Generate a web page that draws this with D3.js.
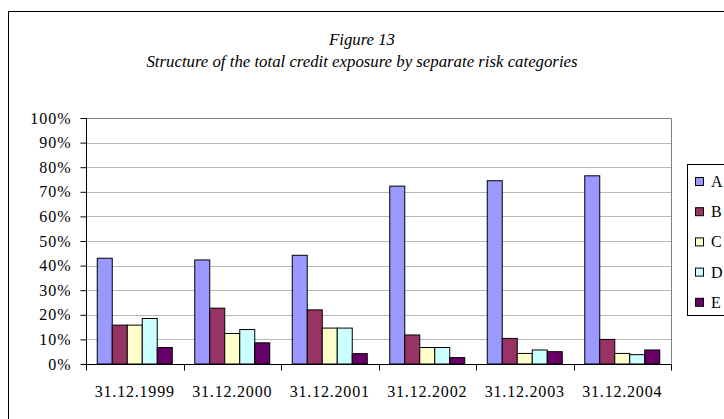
<!DOCTYPE html>
<html lang="en">

<head>
    <meta charset="utf-8" />
    <title>Figure 13</title>
    <script src="https://d3js.org/d3.v7.min.js"></script>
</head>
<style>
    body {
        margin: 0;
        background: #fff;
    }

    text {
        font-family: "Liberation Serif", "Times New Roman", serif;
        fill: #000;
    }

    .grid line {
        stroke: #b8b8b8;
        stroke-width: 1px;
    }

    .bar {
        stroke: #000;
        stroke-width: 1px;
    }
</style>

<body>
    <div id="chart"></div>
</body>

<script>
    var width = 724;
    var height = 419;

    // data (percent)
    var dates = ["31.12.1999", "31.12.2000", "31.12.2001", "31.12.2002", "31.12.2003", "31.12.2004"];
    var categories = ["A", "B", "C", "D", "E"];
    var colors = ["#9999FF", "#993366", "#FFFFCC", "#CCFFFF", "#660066"];
    var valA = [43.0, 42.3, 44.2, 72.3, 74.5, 76.5];
    var valB = [15.8, 22.7, 22.0, 11.8, 10.4, 10.0];
    var valC = [15.8, 12.4, 14.6, 6.7, 4.3, 4.3];
    var valD = [18.5, 14.0, 14.6, 6.7, 5.7, 3.8];
    var valE = [6.7, 8.6, 4.2, 2.6, 5.0, 5.7];
    var yTicks = [0, 10, 20, 30, 40, 50, 60, 70, 80, 90, 100];

    var series = [valA, valB, valC, valD, valE];

    var margin = { left: 86, top: 118, right: 671, bottom: 364 };

    var svg = d3.select("#chart").append("svg")
        .attr("width", width)
        .attr("height", height);

    // outer frame
    svg.append("rect")
        .attr("x", 8.5).attr("y", 11.5)
        .attr("width", 730).attr("height", 420)
        .attr("fill", "none").attr("stroke", "#000").attr("stroke-width", 1);

    svg.append("text")
        .attr("x", 362).attr("y", 45)
        .attr("text-anchor", "middle")
        .style("font-style", "italic").style("font-size", "16.8px")
        .text("Figure 13");
    svg.append("text")
        .attr("x", 362).attr("y", 67)
        .attr("text-anchor", "middle")
        .style("font-style", "italic").style("font-size", "16.8px")
        .text("Structure of the total credit exposure by separate risk categories");

    var x = d3.scaleBand()
        .domain(dates)
        .range([margin.left, margin.right]);

    // Excel style: gap width 150% of one bar
    var x1 = d3.scaleBand()
        .domain(categories)
        .range([0, x.bandwidth()])
        .paddingInner(0)
        .paddingOuter(0.75);

    var y = d3.scaleLinear()
        .domain([0, 100])
        .range([margin.bottom, margin.top]);

    // gridlines
    svg.append("g").attr("class", "grid")
        .selectAll("line")
        .data(yTicks.filter(function (d) { return d > 0 && d < 100; }))
        .enter().append("line")
        .attr("x1", margin.left).attr("x2", margin.right)
        .attr("y1", function (d) { return Math.round(y(d)) + 0.5; })
        .attr("y2", function (d) { return Math.round(y(d)) + 0.5; });

    // plot border (top and right side)
    svg.append("path")
        .attr("d", "M" + margin.left + "," + (margin.top + 0.5) + "H" + (margin.right + 0.5) + "V" + margin.bottom)
        .attr("fill", "none")
        .attr("stroke", "#808080");

    // bars
    var groups = svg.append("g").selectAll("g")
        .data(dates)
        .enter().append("g")
        .attr("transform", function (d) { return "translate(" + x(d) + ",0)"; });

    groups.selectAll("rect")
        .data(function (d, i) {
            return categories.map(function (c, j) { return { cat: c, value: series[j][i], color: colors[j] }; });
        })
        .enter().append("rect")
        .attr("class", "bar")
        .attr("x", function (d) { return x1(d.cat); })
        .attr("width", x1.bandwidth())
        .attr("y", function (d) { return y(d.value); })
        .attr("height", function (d) { return y(0) - y(d.value); })
        .attr("fill", function (d) { return d.color; });

    // y axis
    var yAxis = svg.append("g")
        .attr("transform", "translate(" + (margin.left + 0.5) + ",0)")
        .call(d3.axisLeft(y).tickValues(yTicks).tickSize(6).tickPadding(10)
            .tickFormat(function (d) { return d + "%"; }));
    yAxis.select(".domain").attr("d", "M0," + margin.top + "V" + margin.bottom);
    yAxis.selectAll("text")
        .style("font-size", "16px")
        .style("letter-spacing", "1px")
        .attr("dx", "1px");

    // x axis with ticks on category boundaries
    var xAxis = svg.append("g")
        .attr("transform", "translate(0," + (margin.bottom + 0.5) + ")");
    xAxis.append("line")
        .attr("x1", margin.left).attr("x2", margin.right + 1)
        .attr("stroke", "#000");
    xAxis.selectAll(".bt")
        .data(dates.concat(["end"]))
        .enter().append("line")
        .attr("class", "bt")
        .attr("x1", function (d, i) { return Math.round(margin.left + i * x.step()) + 0.5; })
        .attr("x2", function (d, i) { return Math.round(margin.left + i * x.step()) + 0.5; })
        .attr("y1", 0).attr("y2", 6)
        .attr("stroke", "#000");
    xAxis.selectAll(".lbl")
        .data(dates)
        .enter().append("text")
        .attr("class", "lbl")
        .attr("x", function (d) { return x(d) + x.bandwidth() / 2; })
        .attr("y", 32)
        .attr("text-anchor", "middle")
        .style("font-size", "16px")
        .style("letter-spacing", "0.8px")
        .text(function (d) { return d; });

    // legend
    var legend = svg.append("g");
    legend.append("rect")
        .attr("x", 687.5).attr("y", 164.5)
        .attr("width", 60).attr("height", 151)
        .attr("fill", "#fff").attr("stroke", "#000");
    var li = legend.selectAll(".li")
        .data(categories)
        .enter().append("g")
        .attr("class", "li")
        .attr("transform", function (d, i) { return "translate(695," + (181 + i * 30.2) + ")"; });
    li.append("rect")
        .attr("x", 0.5).attr("y", -3.5)
        .attr("width", 8).attr("height", 8)
        .attr("fill", function (d, i) { return colors[i]; })
        .attr("stroke", "#000");
    li.append("text")
        .attr("x", 16).attr("y", 6)
        .style("font-size", "16px")
        .text(function (d) { return d; });
</script>

</html>
